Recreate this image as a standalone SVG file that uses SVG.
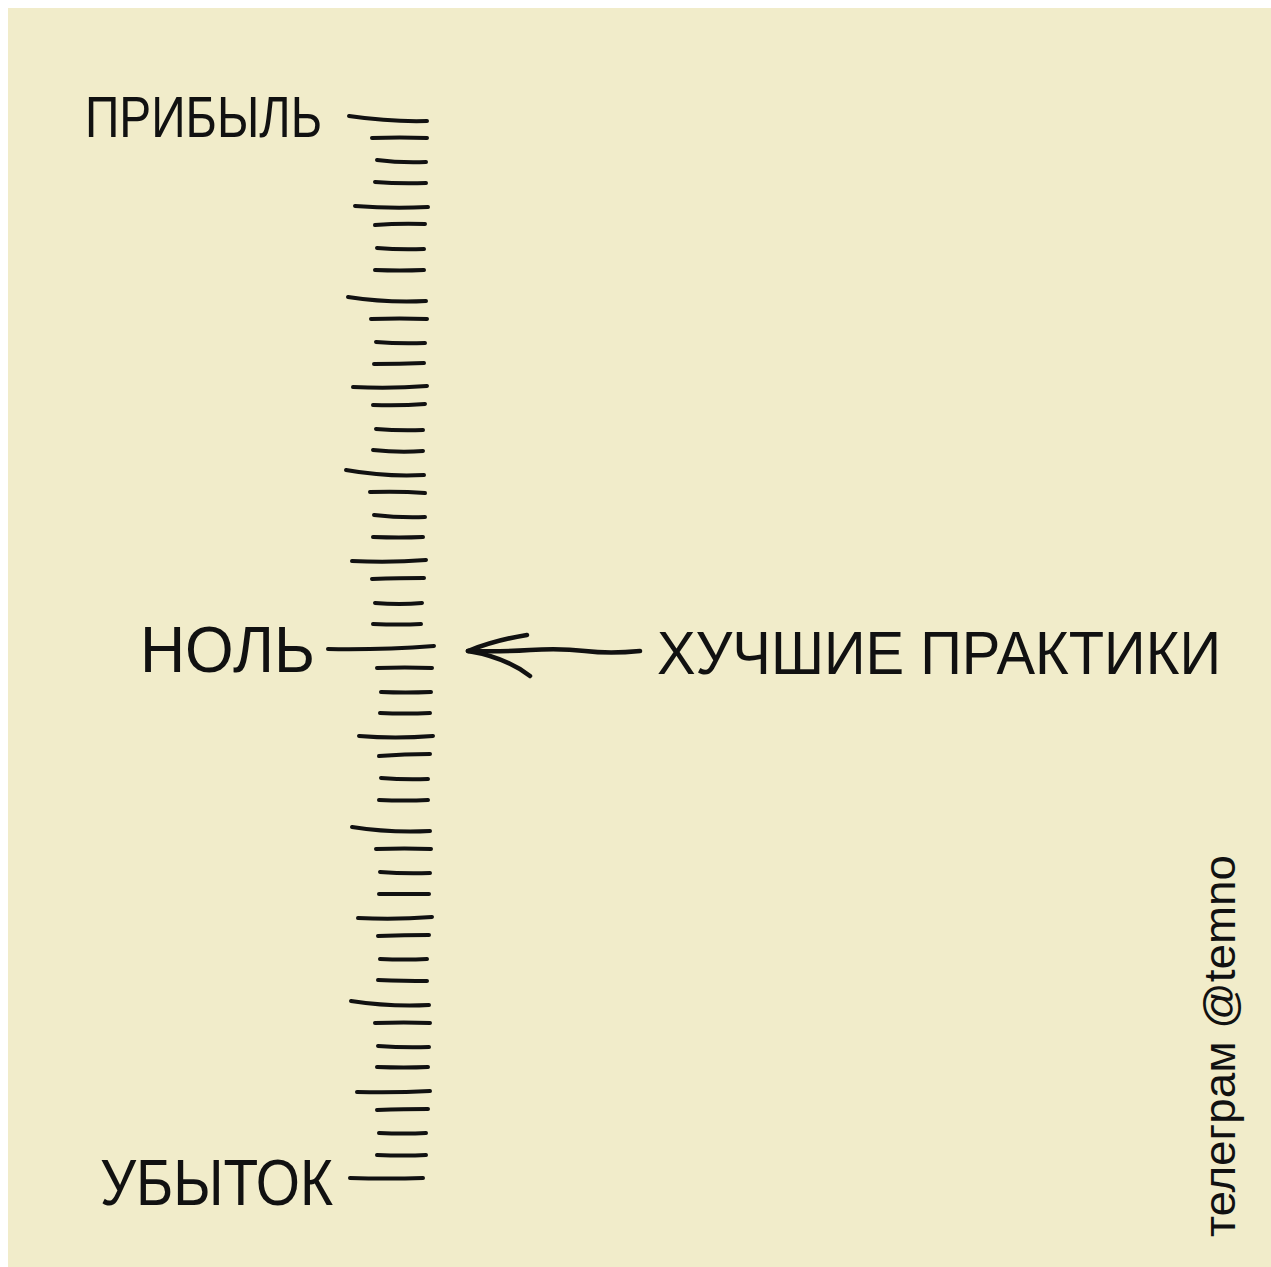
<svg xmlns="http://www.w3.org/2000/svg" width="1271" height="1267" viewBox="0 0 1271 1267">
<style>
.lbl{font-family:"Liberation Sans","DejaVu Sans",sans-serif;fill:#111;}
.tk{fill:none;stroke:#111;stroke-width:4;stroke-linecap:round;stroke-linejoin:round;}
</style>
<rect x="0" y="0" width="1271" height="1267" fill="#ffffff"/>
<rect x="8" y="8" width="1263" height="1259" fill="#f1ecca"/>
<g id="scale" class="tk">
<path d="M349,116 Q390,122 427,121"/>
<path d="M372,138 Q400,137 427,138"/>
<path d="M377,160 Q400,163 426,162"/>
<path d="M375,182 Q400,184 426,183"/>
<path d="M355,206 Q392,209 428,207"/>
<path d="M375,225 Q400,223 425,224"/>
<path d="M377,248 Q400,250 424,249"/>
<path d="M375,270 Q400,271 424,270"/>
<path d="M348,297 Q387,303 426,301"/>
<path d="M371,319 Q400,318 427,319"/>
<path d="M376,342 Q400,344 425,343"/>
<path d="M374,364 Q400,364 424,363"/>
<path d="M353,387 Q390,389 427,386"/>
<path d="M373,405 Q400,406 425,404"/>
<path d="M376,429 Q400,431 423,430"/>
<path d="M373,450 Q400,453 423,451"/>
<path d="M346,470 Q385,477 424,475"/>
<path d="M370,492 Q400,491 425,493"/>
<path d="M374,515 Q400,518 425,517"/>
<path d="M373,537 Q400,538 423,537"/>
<path d="M352,561 Q390,563 426,560"/>
<path d="M372,579 Q400,578 424,578"/>
<path d="M375,603 Q400,605 422,603"/>
<path d="M373,624 Q400,625 421,624"/>
<path d="M328,649 Q380,650 434,646"/>
<path d="M377,668 Q405,667 432,668"/>
<path d="M381,692 Q405,693 431,692"/>
<path d="M380,713 Q405,714 430,713"/>
<path d="M359,736 Q395,739 433,736"/>
<path d="M379,756 Q405,754 430,754"/>
<path d="M381,778 Q405,780 428,779"/>
<path d="M379,800 Q405,801 428,800"/>
<path d="M352,827 Q390,833 430,831"/>
<path d="M376,849 Q405,848 431,849"/>
<path d="M380,872 Q405,874 430,873"/>
<path d="M379,894 Q405,894 429,894"/>
<path d="M358,918 Q395,920 432,917"/>
<path d="M378,936 Q405,935 429,935"/>
<path d="M380,959 Q405,960 427,959"/>
<path d="M378,980 Q405,981 427,981"/>
<path d="M351,1001 Q390,1007 429,1005"/>
<path d="M375,1023 Q405,1022 430,1023"/>
<path d="M378,1046 Q405,1048 429,1047"/>
<path d="M377,1067 Q405,1068 428,1067"/>
<path d="M357,1092 Q395,1093 430,1091"/>
<path d="M377,1110 Q405,1109 428,1109"/>
<path d="M379,1133 Q405,1134 426,1133"/>
<path d="M377,1155 Q405,1156 426,1155"/>
<path d="M350,1178 Q387,1179 423,1178"/>
</g>
<g id="connectors" class="tk" style="stroke-width:4.5">
<path d="M640,651 Q610,654 585,651 Q560,648 530,650 Q500,652 468,651"/>
<path d="M468,651 Q495,640 527,635"/>
<path d="M468,651 Q505,657 530,676"/>
</g>
<g id="profit"><text class="lbl" x="85" y="137" font-size="58" textLength="237" lengthAdjust="spacingAndGlyphs">ПРИБЫЛЬ</text></g>
<g id="zero"><text class="lbl" x="140" y="672" font-size="64" textLength="175" lengthAdjust="spacingAndGlyphs">НОЛЬ</text></g>
<g id="loss"><text class="lbl" x="100" y="1205" font-size="64" textLength="233" lengthAdjust="spacingAndGlyphs">УБЫТОК</text></g>
<g id="best-practices"><text class="lbl" x="657" y="674" font-size="62" textLength="564" lengthAdjust="spacingAndGlyphs">ХУЧШИЕ ПРАКТИКИ</text></g>
<g id="credit"><text class="lbl" transform="translate(1235,1237) rotate(-90)" x="0" y="0" font-size="44" textLength="382" lengthAdjust="spacingAndGlyphs">телеграм @temno</text></g>
</svg>
